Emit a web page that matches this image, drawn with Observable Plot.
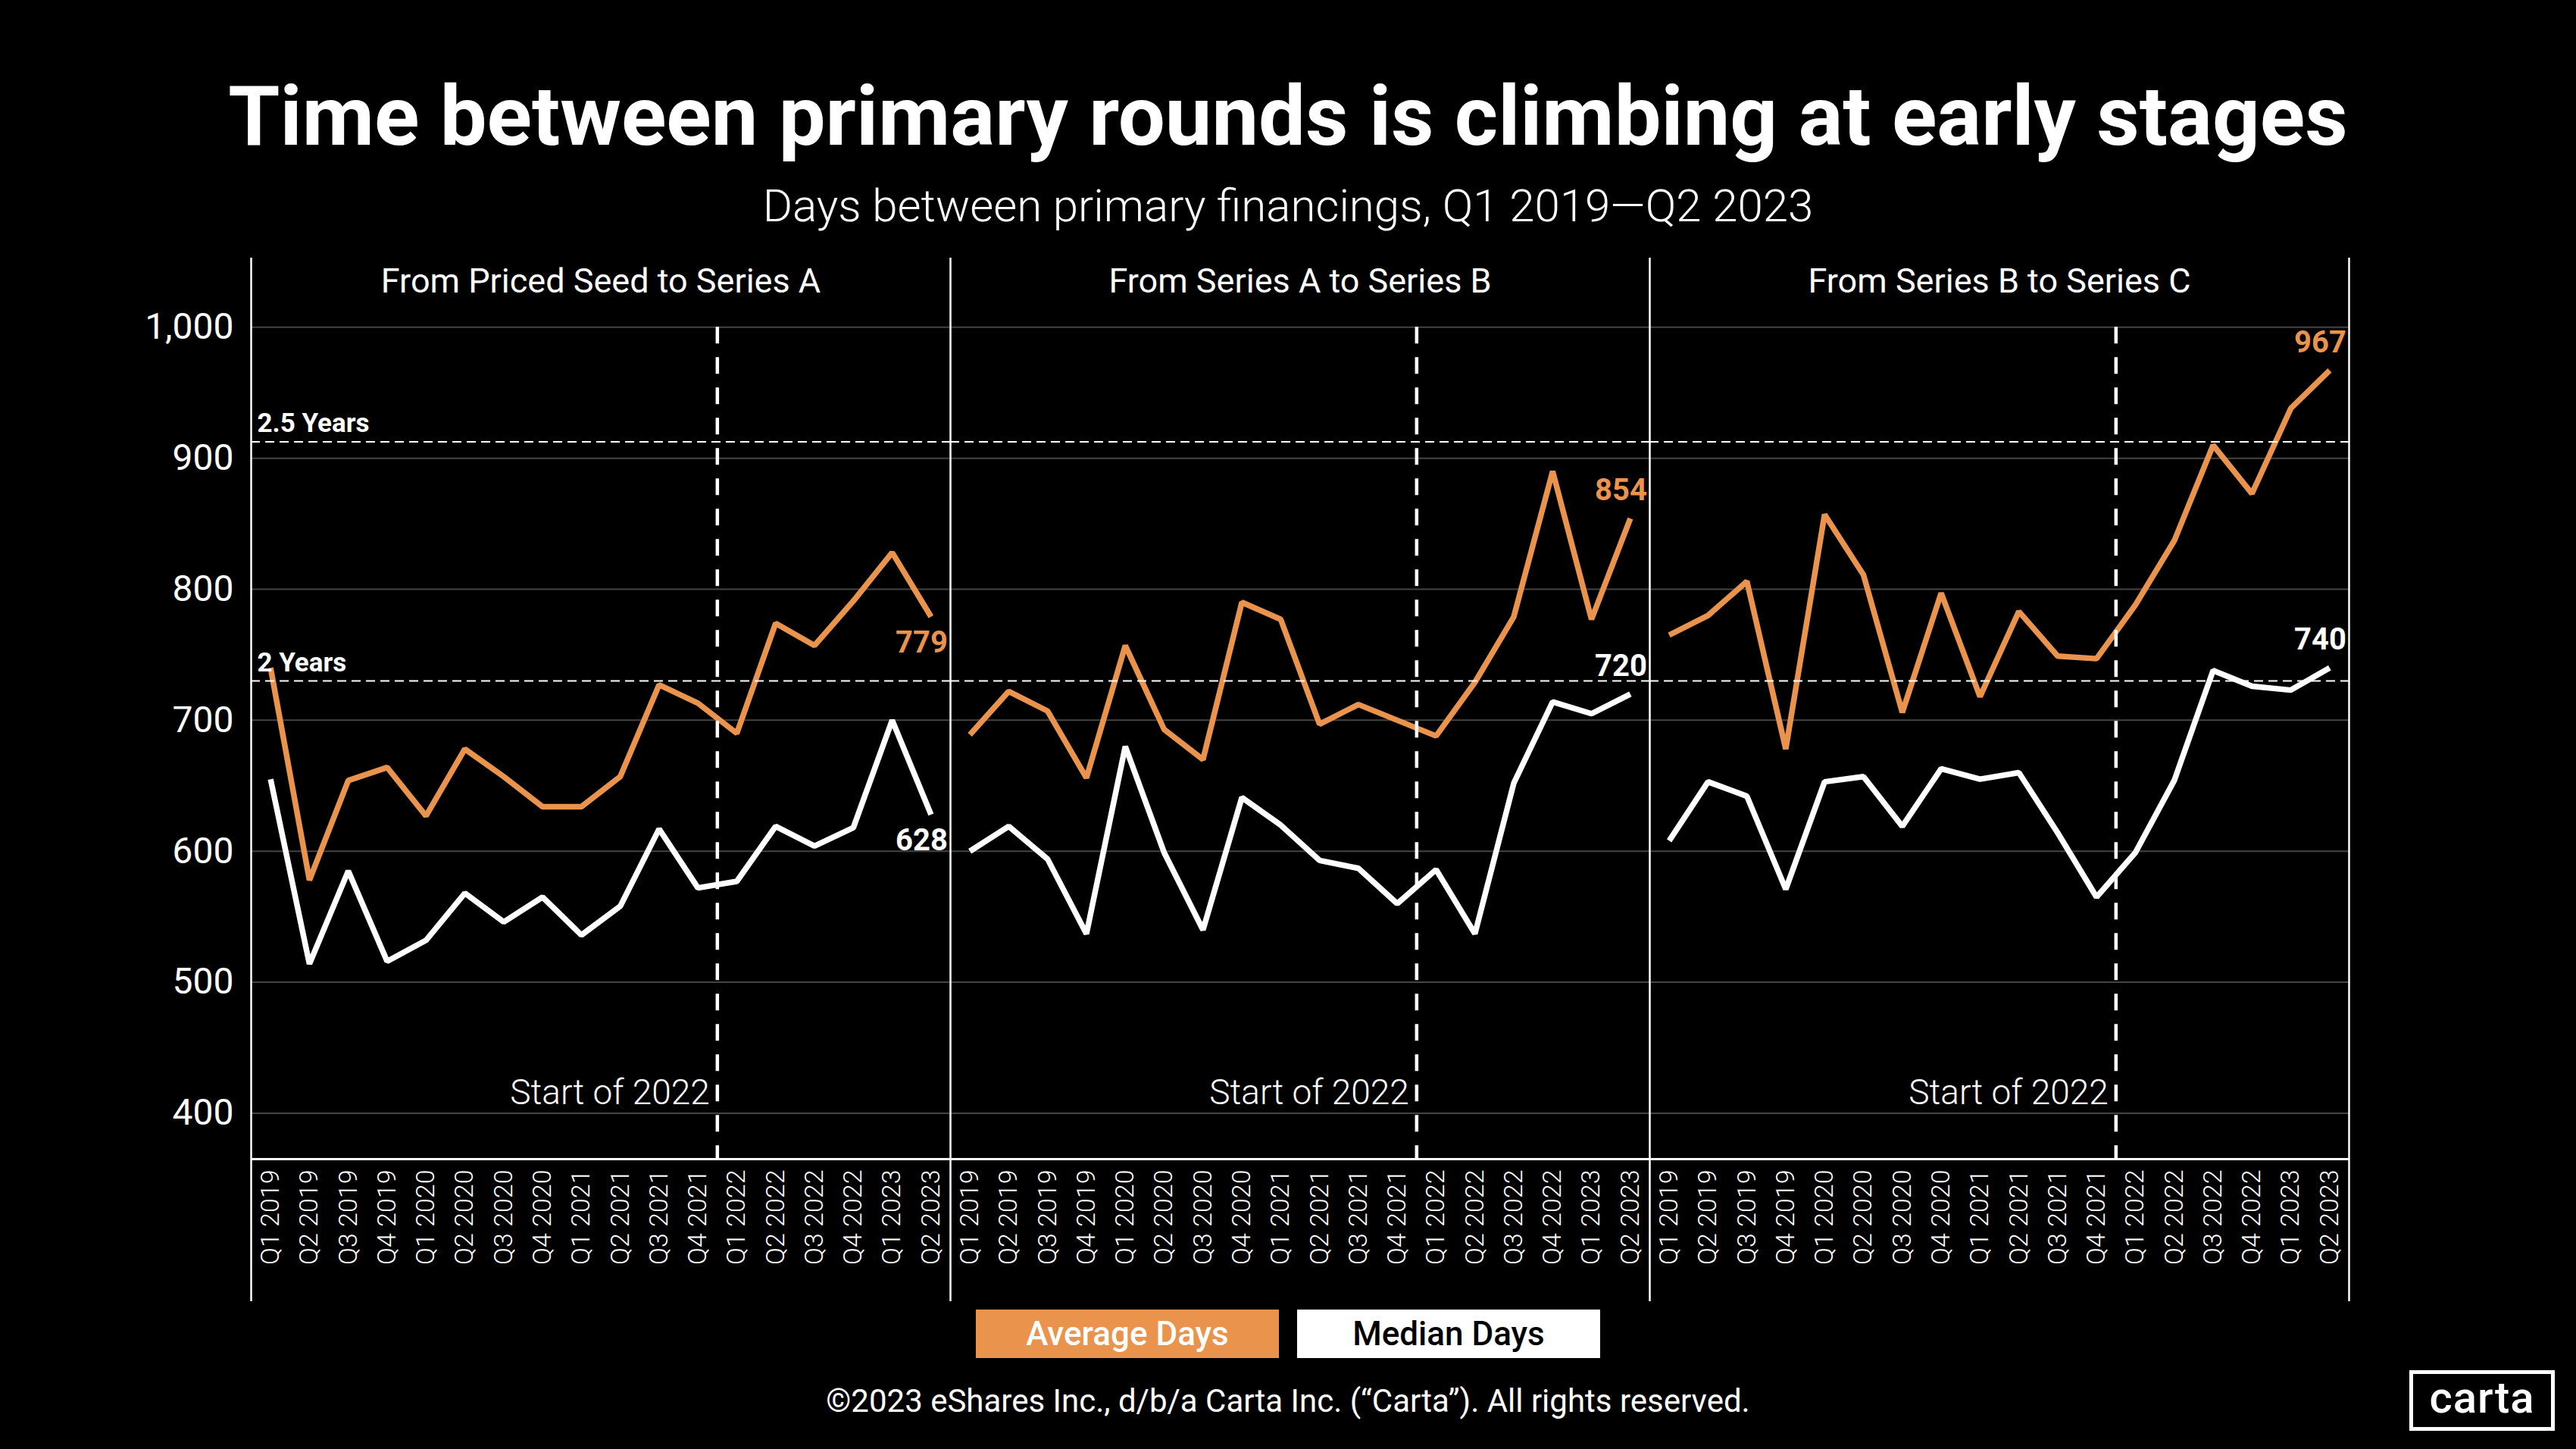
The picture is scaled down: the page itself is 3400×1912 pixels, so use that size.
<!DOCTYPE html>
<html>
<head>
<meta charset="utf-8">
<script src="https://cdn.jsdelivr.net/npm/d3@7"></script>
<script src="https://cdn.jsdelivr.net/npm/@observablehq/plot@0.6"></script>
<style>
  html, body { margin: 0; padding: 0; background: #000; }
  #root { position: relative; width: 3400px; height: 1912px; background: #000; overflow: hidden; font-family: Roboto, sans-serif; color: #fff; }
  .abs { position: absolute; white-space: nowrap; line-height: 1; }
  .center { left: 0; width: 3400px; text-align: center; }
  .key { position: absolute; top: 1728px; width: 400px; height: 64px; display: flex; align-items: center; justify-content: center; font-size: 44px; font-weight: 500; line-height: 1; }
</style>
</head>
<body>
<div id="root">
  <div id="title" class="abs center" style="top:99px;font-size:110px;font-weight:700;">Time between primary rounds is climbing at early stages</div>
  <div id="subtitle" class="abs center" style="top:242px;font-size:60px;font-weight:300;">Days between primary financings, Q1 2019—Q2 2023</div>
  <div id="chart" class="abs" style="left:0;top:330px;"></div>
  <div id="legend"></div>
  <div id="caption" class="abs center" style="top:1828px;font-size:42px;font-weight:400;">©2023 eShares Inc., d/b/a Carta Inc. (“Carta”). All rights reserved.</div>
  <div id="logo" class="abs" style="left:3180px;top:1808px;width:182px;height:70px;border:5px solid #fff;display:flex;align-items:center;justify-content:center;font-size:58px;font-weight:500;letter-spacing:1px;"><span style="margin-top:-8px">carta</span></div>
</div>
<script>
// ---------- data ----------
const quarters = ["Q1 2019","Q2 2019","Q3 2019","Q4 2019","Q1 2020","Q2 2020","Q3 2020","Q4 2020",
  "Q1 2021","Q2 2021","Q3 2021","Q4 2021","Q1 2022","Q2 2022","Q3 2022","Q4 2022","Q1 2023","Q2 2023"];
const panels = ["From Priced Seed to Series A", "From Series A to Series B", "From Series B to Series C"];
const seriesNames = ["Average Days", "Median Days"];

const seedToA_avg = [740, 578, 654, 664, 627, 678, 657, 634, 634, 657, 727, 713, 690, 774, 757, 791, 828, 779];
const seedToA_med = [655, 514, 585, 516, 532, 568, 546, 565, 536, 558, 617, 572, 577, 619, 604, 618, 700, 628];
const aToB_avg    = [689, 722, 707, 656, 757, 693, 670, 790, 777, 697, 712, 700, 688, 729, 779, 890, 777, 854];
const aToB_med    = [600, 619, 594, 537, 680, 599, 540, 641, 620, 593, 587, 560, 586, 537, 652, 714, 705, 720];
const bToC_avg    = [765, 780, 806, 678, 857, 811, 706, 797, 718, 783, 749, 747, 788, 837, 910, 873, 938, 967];
const bToC_med    = [608, 653, 642, 571, 653, 657, 619, 663, 655, 660, 614, 565, 599, 654, 738, 726, 723, 740];

const yTicks = [400, 500, 600, 700, 800, 900, 1000];
const yDomain = [365, 1017.5];
const refValues = [912.5, 730];
const refLabels = ["2.5 Years", "2 Years"];
const startOf2022 = 11.5;          // boundary between Q4 2021 and Q1 2022
const startLabel = "Start of 2022";

const ORANGE = "#EA934C";
const palette = [ORANGE, "#ffffff"];

// ---------- build table ----------
const seriesByPanel = [
  [seedToA_avg, seedToA_med],
  [aToB_avg, aToB_med],
  [bToC_avg, bToC_med]
];
const rows = [];
panels.forEach((p, k) => {
  seriesNames.forEach((s, j) => {
    seriesByPanel[k][j].forEach((v, i) => rows.push({panel: p, series: s, i, quarter: quarters[i], value: v}));
  });
});
const last = rows.filter(d => d.i === quarters.length - 1);
const refs = refValues.map((v, k) => ({v, label: refLabels[k]}));

const font = "Roboto, sans-serif";

const chart = Plot.plot({
  width: 3400,
  height: 1390,
  marginTop: 71,
  marginBottom: 191,
  marginLeft: 330,
  marginRight: 300,
  style: {background: "#000", color: "#fff", fontFamily: font, overflow: "visible"},
  fx: {domain: panels, padding: 0, axis: null, label: null},
  x: {domain: [-0.5, quarters.length - 0.5], label: null},
  y: {domain: yDomain, label: null},
  color: {domain: seriesNames, range: palette},
  marks: [
    Plot.gridY(yTicks, {stroke: "#444", strokeOpacity: 1, strokeWidth: 2}),
    Plot.axisY(yTicks, {tickSize: 0, tickPadding: 23, tickFormat: d3.format(","), fontSize: 48, fontWeight: 400, fill: "#fff", label: null}),
    Plot.axisX(d3.range(quarters.length), {tickSize: 0, tickPadding: 14, tickRotate: -90, tickFormat: i => quarters[i], fontSize: 34, fontWeight: 300, fill: "#fff", label: null}),
    Plot.line(rows, {fx: "panel", x: "i", y: "value", z: "series", stroke: "series", strokeWidth: 7.5, strokeLinejoin: "miter", strokeLinecap: "butt"}),
    Plot.ruleY(refValues, {stroke: "#fff", strokeWidth: 2.2, strokeDasharray: "12,7"}),
    Plot.ruleX([startOf2022], {y1: yTicks[yTicks.length - 1], y2: yDomain[0], stroke: "#fff", strokeWidth: 4.5, strokeDasharray: "22,18"}),
    Plot.ruleY([yDomain[0]], {stroke: "#fff", strokeWidth: 3}),
    Plot.ruleX([-0.5], {stroke: "#fff", strokeWidth: 2.5, insetTop: -61, insetBottom: -188}),
    Plot.ruleX([quarters.length - 0.5], {fx: () => panels[panels.length - 1], stroke: "#fff", strokeWidth: 2.5, insetTop: -61, insetBottom: -188}),
    Plot.text(panels, {fx: d => d, text: d => d, frameAnchor: "top", dy: -47, fontSize: 45, fontWeight: 400, fill: "#fff"}),
    Plot.text([startOf2022], {x: d => d, text: () => startLabel, frameAnchor: "bottom", textAnchor: "end", lineAnchor: "bottom", dx: -10, dy: -73, fontSize: 46, fontWeight: 300, fill: "#fff"}),
    Plot.text(refs, {fx: () => panels[0], y: "v", text: "label", frameAnchor: "left", textAnchor: "start", lineAnchor: "bottom", dx: 8, dy: -13, fontSize: 35, fontWeight: 700, fill: "#fff"}),
    Plot.text(last.filter(d => d.panel === panels[0]), {fx: "panel", x: "i", y: "value", text: d => String(d.value), fill: "series", textAnchor: "end", dx: 22, dy: 34, fontSize: 40, fontWeight: 700}),
    Plot.text(last.filter(d => d.panel !== panels[0]), {fx: "panel", x: "i", y: "value", text: d => String(d.value), fill: "series", textAnchor: "end", dx: 22, dy: -37, fontSize: 40, fontWeight: 700})
  ]
});
document.getElementById("chart").appendChild(chart);

// ---------- legend (HTML, from the same color scale) ----------
const legend = document.getElementById("legend");
const lefts = [1288, 1712];
seriesNames.forEach((s, j) => {
  const el = document.createElement("div");
  el.className = "key";
  el.style.left = lefts[j] + "px";
  el.style.background = palette[j];
  el.style.color = j === 0 ? "#fff" : "#000";
  el.textContent = s;
  legend.appendChild(el);
});
</script>
</body>
</html>
